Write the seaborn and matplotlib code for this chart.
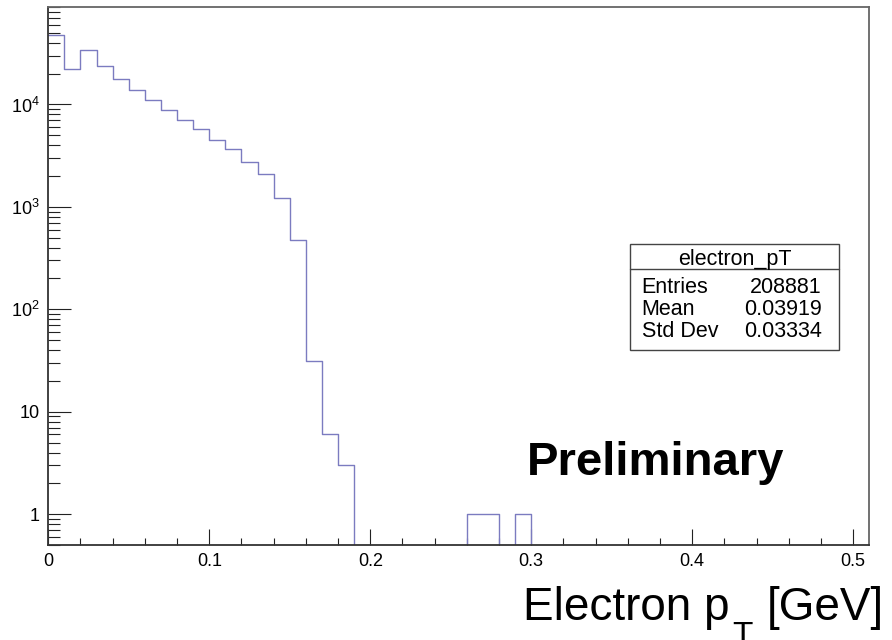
import numpy as np
import pandas as pd
import seaborn as sns
import matplotlib.pyplot as plt
from matplotlib.patches import Rectangle
from matplotlib.ticker import FixedLocator, FixedFormatter, MultipleLocator, LogLocator, NullFormatter

# histogram: 51 bins of width 0.01 from 0 to 0.51
bin_width = 0.01
counts = [47400, 22400, 33900, 24000, 17900, 13800, 11000, 8800, 7030, 5700,
          4450, 3640, 2750, 2090, 1235, 473, 31, 6, 3, 0,
          0, 0, 0, 0, 0, 0, 1, 1, 0, 1,
          0, 0, 0, 0, 0, 0, 0, 0, 0, 0,
          0, 0, 0, 0, 0, 0, 0, 0, 0, 0,
          0]
stats_names = ["Entries", "Mean", "Std Dev"]
stats_values = ["208881", "0.03919", "0.03334"]
hist_name = "electron_pT"
x_ticks = [0, 0.1, 0.2, 0.3, 0.4, 0.5]
x_ticklabels = ["0", "0.1", "0.2", "0.3", "0.4", "0.5"]
y_ticks = [1, 10, 100, 1000, 10000]
y_ticklabels = ["1", "10", "$10^{2}$", "$10^{3}$", "$10^{4}$"]

edges = np.round(np.arange(len(counts) + 1) * bin_width, 4)
df = pd.DataFrame({"pt": (edges[:-1] + edges[1:]) / 2, "n": counts})

sns.set_style("white")
plt.rcParams["font.family"] = ["Liberation Sans", "DejaVu Sans"]
plt.rcParams["mathtext.fontset"] = "custom"
plt.rcParams["mathtext.rm"] = "Liberation Sans"
plt.rcParams["mathtext.it"] = "Liberation Sans:italic"
plt.rcParams["mathtext.bf"] = "Liberation Sans:bold"
plt.rcParams["text.color"] = "black"
plt.rcParams["xtick.color"] = "black"
plt.rcParams["ytick.color"] = "black"

fig = plt.figure(figsize=(8.92, 6.4), dpi=100)
ax = fig.add_axes([0.0541, 0.1484, 0.9205, 0.8411])

sns.histplot(data=df, x="pt", weights="n", bins=list(edges), element="step",
             fill=False, color="#7b7bc0", linewidth=1.0, ax=ax)
ax.set_yscale("log")
ax.set_xlim(0, 0.51)
ax.set_ylim(0.5, 9.0e4)
ax.set_xlabel("")
ax.set_ylabel("")

for name, s in ax.spines.items():
    s.set_color("#333333" if name in ("left", "bottom") else "#666666")
    s.set_linewidth(1.3)

ax.xaxis.set_major_locator(FixedLocator(x_ticks))
ax.xaxis.set_major_formatter(FixedFormatter(x_ticklabels))
ax.xaxis.set_minor_locator(MultipleLocator(0.02))
ax.yaxis.set_major_locator(FixedLocator(y_ticks))
ax.yaxis.set_major_formatter(FixedFormatter(y_ticklabels))
ax.yaxis.set_minor_locator(LogLocator(base=10, subs=np.arange(2, 10)))
ax.yaxis.set_minor_formatter(NullFormatter())

ax.tick_params(which="both", bottom=True, left=True, top=False, right=False)
ax.tick_params(axis="x", which="major", direction="in", length=11.3, width=0.8,
               labelsize=13, pad=6, color="#222222", labelcolor="black")
ax.tick_params(axis="x", which="minor", direction="in", length=5.3, width=0.8, color="#222222")
ax.tick_params(axis="y", which="major", direction="in", length=16.6, width=0.8,
               labelsize=13, pad=6, color="#222222", labelcolor="black")
ax.tick_params(axis="y", which="minor", direction="in", length=8.6, width=0.8, color="#222222")

# stats box
box = Rectangle((0.7063, 0.4531), 0.9406 - 0.7063, 0.6188 - 0.4531,
                transform=fig.transFigure, facecolor="white", edgecolor="#444444",
                linewidth=1.0)
fig.patches.append(box)
fig.add_artist(plt.Line2D([0.7063, 0.9406], [0.5792, 0.5792],
                          transform=fig.transFigure, color="#444444", linewidth=1.0))
fig.text(0.8234, 0.5859, hist_name, ha="center", va="baseline", fontsize=15.5)
row_y = [0.5417, 0.5078, 0.4739]
for name, val, yy in zip(stats_names, stats_values, row_y):
    fig.text(0.7194, yy, name, ha="left", va="baseline", fontsize=15.5)
    fig.text(0.9212, yy, val, ha="right", va="baseline", fontsize=15.5)

fig.text(656 / 892, 1 - 475 / 640, "Preliminary", ha="center", va="baseline",
         fontsize=34, fontweight="bold")

# x-axis title, ROOT style with a large, deeply lowered subscript
fig.text(523 / 892, 1 - 620 / 640, "Electron p", ha="left", va="baseline", fontsize=33)
fig.text(732 / 892, 1 - 645 / 640, "T", ha="left", va="baseline", fontsize=24)
fig.text(884 / 892, 1 - 620 / 640, "[GeV]", ha="right", va="baseline", fontsize=33)

fig.savefig("out.png", dpi=100)
plt.close(fig)
